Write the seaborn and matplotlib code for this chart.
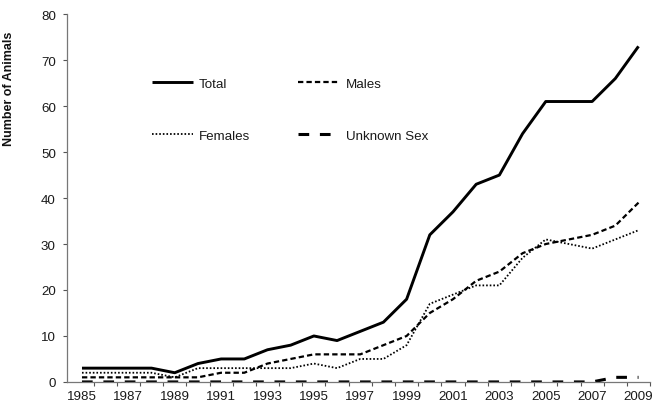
import numpy as np
import pandas as pd
import matplotlib
matplotlib.use("Agg")
import matplotlib.pyplot as plt
from matplotlib.ticker import FixedLocator
import seaborn as sns

years = list(range(1985, 2010))
total = [3, 3, 3, 3, 2, 4, 5, 5, 7, 8, 10, 9, 11, 13, 18, 32, 37, 43, 45, 54, 61, 61, 61, 66, 73]
males = [1, 1, 1, 1, 1, 1, 2, 2, 4, 5, 6, 6, 6, 8, 10, 15, 18, 22, 24, 28, 30, 31, 32, 34, 39]
females = [2, 2, 2, 2, 1, 3, 3, 3, 3, 3, 4, 3, 5, 5, 8, 17, 19, 21, 21, 27, 31, 30, 29, 31, 33]
unknown = [0, 0, 0, 0, 0, 0, 0, 0, 0, 0, 0, 0, 0, 0, 0, 0, 0, 0, 0, 0, 0, 0, 0, 1, 1]
series_names = ["Total", "Males", "Females", "Unknown Sex"]
y_ticks = list(range(0, 81, 10))
x_labels = [str(y) for y in years[::2]]

sns.set_theme(style="white")
plt.rcParams["font.family"] = ["Liberation Sans", "DejaVu Sans"]

fig = plt.figure(figsize=(6.56, 4.10), dpi=100)
ax = fig.add_axes([0.102, 0.066, 0.889, 0.897])

df = pd.DataFrame({"year": years, "Total": total, "Males": males,
                   "Females": females, "Unknown Sex": unknown})

styles = {
    "Total": dict(lw=2.1, dashes=None),
    "Males": dict(lw=1.6, dashes=(2.4, 1.4)),
    "Females": dict(lw=1.3, dashes=(0.9, 1.1)),
    "Unknown Sex": dict(lw=2.2, dashes=(3.5, 3.5)),
}

for name in series_names:
    sns.lineplot(data=df, x="year", y=name, ax=ax, color="black",
                 linewidth=styles[name]["lw"], label=name)
    line = ax.lines[-1]
    if styles[name]["dashes"] is not None:
        line.set_dashes(styles[name]["dashes"])
    line.set_solid_capstyle("butt")

ax.set_xlim(1984.35, 2009.5)
ax.set_ylim(0, 80)
ax.set_yticks(y_ticks)
ax.set_xticks(years[::2])
ax.set_xticklabels(x_labels)
ax.xaxis.set_minor_locator(FixedLocator([y + 0.5 for y in years[:-1]] + [2009.5]))
ax.tick_params(axis="x", which="major", length=0, pad=6, labelsize=9.6, colors="#1a1a1a")
ax.tick_params(axis="x", which="minor", length=3, width=0.8, color="#555555", direction="out", bottom=True)
ax.tick_params(axis="y", length=3, width=0.8, color="#555555", direction="out", left=True,
               pad=5, labelsize=9.6, labelcolor="#1a1a1a")

for side in ["top", "right"]:
    ax.spines[side].set_visible(False)
for side in ["left", "bottom"]:
    ax.spines[side].set_color("#777777")
    ax.spines[side].set_linewidth(0.9)

ax.set_xlabel("")
ax.set_ylabel("Number of Animals", fontsize=9, fontweight="bold", color="#111111")
ax.yaxis.set_label_coords(-0.089, 0.80)

handles, labels = ax.get_legend_handles_labels()
order = [0, 2, 1, 3]
leg = ax.legend([handles[i] for i in order], [labels[i] for i in order],
                ncol=2, frameon=False, loc="upper left",
                bbox_to_anchor=(0.125, 0.86), fontsize=9.6,
                handlelength=3.1, handletextpad=0.45, columnspacing=3.6,
                labelspacing=2.95)
for t in leg.get_texts():
    t.set_color("#1a1a1a")

fig.savefig("out.png", dpi=100, facecolor="white")
